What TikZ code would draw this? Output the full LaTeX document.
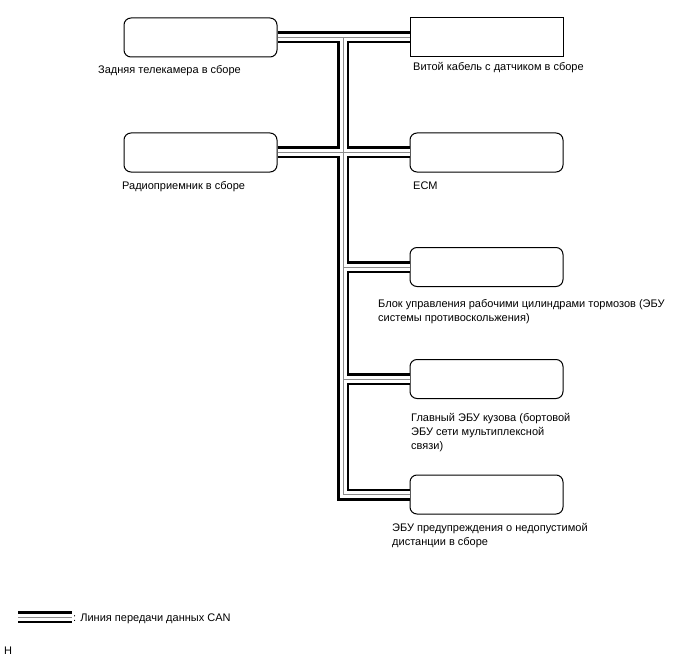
\documentclass[tikz,border=0pt]{standalone}
\usepackage{fontspec}
\setmainfont{Liberation Sans}
\usetikzlibrary{calc,positioning}

\begin{document}
\begin{tikzpicture}[
    x=1pt, y=-1pt,
    unit/.style={draw, line width=1pt, rounded corners=7pt, minimum width=153pt, minimum height=39pt, inner sep=0pt},
    plainunit/.style={unit, rounded corners=0pt},
    lbl/.style={anchor=base west, inner sep=0pt, align=left, font=\fontsize{11}{14}\selectfont},
    canblack/.style={line width=12pt, black},
    canwhite/.style={line width=7pt, white},
    cangray/.style={line width=1pt, black!45}
]
\useasboundingbox (0,0) rectangle (688,658);

% blocks
\node[unit] (cam) at (200.5,37.5) {};
\node[plainunit] (cable) at (486.5,37.5) {};
\node[unit] (radio) at (200.5,152.5) {};
\node[unit] (ecm) at (486.5,152.5) {};
\node[unit] (brake) at (486.5,267) {};
\node[unit] (body) at (486.5,379) {};
\node[unit] (warn) at (486.5,494.5) {};

% labels (base = last line)
\node[lbl] (camtxt) at (98,74) {Задняя телекамера в сборе};
\node[lbl] (cabletxt) at (413,71) {Витой кабель с датчиком в сборе};
\node[lbl] (radiotxt) at (122,189) {Радиоприемник в сборе};
\node[lbl] (ecmtxt) at (413,189) {ECM};
\node[lbl] (braketxt) at (378,321) {Блок управления рабочими цилиндрами тормозов (ЭБУ\\системы противоскольжения)};
\node[lbl] (bodytxt) at (411,449) {Главный ЭБУ кузова (бортовой\\ЭБУ сети мультиплексной\\связи)};
\node[lbl] (warntxt) at (392,545) {ЭБУ предупреждения о недопустимой\\дистанции в сборе};

% trunk points
\coordinate (trunk) at (343,0);
\coordinate (jtop) at (cam.east -| trunk);
\coordinate (jbot) at (warn.west -| trunk);
\coordinate (legA) at (18,617);
\coordinate (legB) at (72,617);

\newcommand{\canbus}{%
  (cam.east) -- (cable.west)
  (radio.east) -- (ecm.west)
  (jtop) -- (jbot) -- (warn.west)
  (brake.west -| trunk) -- (brake.west)
  (body.west -| trunk) -- (body.west)
  (legA) -- (legB)}

\draw[canblack, line join=miter] \canbus;
\draw[canwhite, line join=miter] \canbus;
\draw[cangray] \canbus;

% legend
\node[lbl] (legtxt) at (73,621) {: Линия передачи данных CAN};
\node[lbl] (mark) at (4,654) {H};
\end{tikzpicture}
\end{document}
